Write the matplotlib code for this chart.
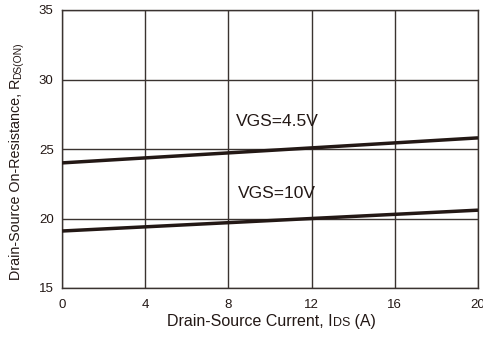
import matplotlib
matplotlib.use("Agg")
import matplotlib.pyplot as plt

plt.rcParams['font.family'] = ['Liberation Sans', 'DejaVu Sans']

# Data
current = [0, 20]
rds_vgs45 = [24.0, 25.8]
rds_vgs10 = [19.1, 20.6]
x_ticks = [0, 4, 8, 12, 16, 20]
y_ticks = [15, 20, 25, 30, 35]
label_45 = "VGS=4.5V"
label_10 = "VGS=10V"

ink = '#231815'
grid_c = '#3a3330'

fig = plt.figure(figsize=(4.83, 3.37), dpi=100)
ax = fig.add_axes([62/483, 1-288/337, (478-62)/483, (288-10)/337])
ax.set_xlim(0, 20)
ax.set_ylim(15, 35)
ax.set_xticks(x_ticks)
ax.set_yticks(y_ticks)
ax.tick_params(length=0, labelsize=9.5, colors='#231815')
ax.tick_params(axis='x', pad=8)
ax.tick_params(axis='y', pad=6)
ax.grid(True, color=grid_c, linewidth=1.0)
for s in ax.spines.values():
    s.set_color(grid_c)
    s.set_linewidth(1.0)

ax.plot(current, rds_vgs45, color=ink, linewidth=2.5, solid_capstyle='butt', zorder=3)
ax.plot(current, rds_vgs10, color=ink, linewidth=2.5, solid_capstyle='butt', zorder=3)

ax.text(8.37, 27.0, label_45, fontsize=12.5, color=ink, va='center', ha='left')
ax.text(8.46, 21.83, label_10, fontsize=12.5, color=ink, va='center', ha='left')

# x label with small-caps subscript
fs = 11.5
base_y = 1-326/337
t1 = fig.text(167/483, base_y, "Drain-Source Current, I", fontsize=fs, color=ink,
              ha='left', va='baseline')
t2 = fig.text(0, 0, "DS", fontsize=fs*0.78, color=ink)
t3 = fig.text(0, 0, " (A)", fontsize=fs, color=ink)
fig.canvas.draw()
r = fig.canvas.get_renderer()
inv = fig.transFigure.inverted()
bb = t1.get_window_extent(r)
x1 = inv.transform((bb.x1, 0))[0]
t2.set_position((x1, base_y)); t2.set_va('baseline')
fig.canvas.draw()
bb2 = t2.get_window_extent(r)
x2 = inv.transform((bb2.x1, 0))[0]
t3.set_position((x2, base_y)); t3.set_va('baseline')

# y label
fsy = 10.3
ya = fig.text(23/483, 1-280/337, "Drain-Source On-Resistance, R", fontsize=fsy, color=ink,
              rotation=90, ha='right', va='bottom')
fig.canvas.draw()
bb = ya.get_window_extent(r)
ytop = inv.transform((0, bb.y1))[1]
xr = inv.transform((bb.x1, 0))[0]
ya2 = fig.text(xr, ytop, "DS(ON)", fontsize=fsy*0.72, color=ink, rotation=90, ha='right', va='bottom')

fig.savefig("out.png", dpi=100)
